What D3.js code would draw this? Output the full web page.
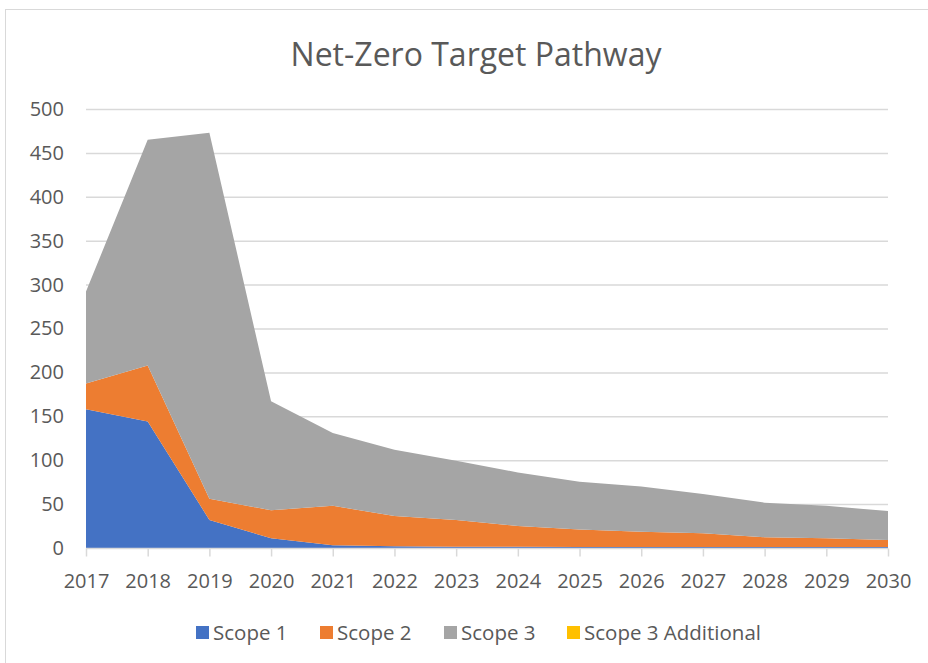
<!DOCTYPE html>
<html>
<head>
<meta charset="utf-8">
<script src="https://cdn.jsdelivr.net/npm/d3@7"></script>
<style>
  body { margin: 0; background: #fff; }
  text { font-family: "Open Sans", sans-serif; fill: #595959; }
</style>
</head>
<body>
<svg id="chart"></svg>
<script>
// values
const years = ["2017", "2018", "2019", "2020", "2021", "2022", "2023", "2024", "2025", "2026", "2027", "2028", "2029", "2030"];
const scope1 = [158, 144, 32, 11, 3, 2, 1.5, 1.5, 1, 1, 1, 1, 1, 1];
const scope2 = [29.5, 64, 24, 32, 45, 34.5, 30.5, 23.5, 20, 17.6, 15.7, 11.2, 10, 8];
const scope3 = [104.5, 257, 417, 124, 83, 75.5, 67.5, 61, 54.5, 51.4, 44.8, 39.4, 37, 33];
const scope3Additional = [0, 0, 0, 0, 0, 0, 0, 0, 0, 0, 0, 0, 0, 0];
const seriesNames = ["Scope 1", "Scope 2", "Scope 3", "Scope 3 Additional"];
const seriesColors = ["#4472c4", "#ed7d31", "#a5a5a5", "#ffc000"];
const yTicks = [0, 50, 100, 150, 200, 250, 300, 350, 400, 450, 500];

const width = 928, height = 663;
const margin = { top: 109, right: 40, bottom: 115, left: 86 };

const svg = d3.select("#chart").attr("width", width).attr("height", height);

// chart frame
svg.append("rect")
  .attr("x", 5.5).attr("y", 9.5)
  .attr("width", width + 10).attr("height", height + 10)
  .attr("fill", "none").attr("stroke", "#d9d9d9");

const table = years.map((y, i) => ({
  year: y,
  "Scope 1": scope1[i],
  "Scope 2": scope2[i],
  "Scope 3": scope3[i],
  "Scope 3 Additional": scope3Additional[i]
}));

const x = d3.scalePoint().domain(years).range([margin.left, width - margin.right]);
const y = d3.scaleLinear().domain([0, 500]).range([height - margin.bottom, margin.top]);

// gridlines
svg.append("g")
  .selectAll("line")
  .data(yTicks.filter(d => d > 0))
  .join("line")
  .attr("x1", margin.left).attr("x2", width - margin.right)
  .attr("y1", d => y(d) + 0.5).attr("y2", d => y(d) + 0.5)
  .attr("stroke", "#d9d9d9").attr("stroke-width", 1.5);

const stack = d3.stack().keys(seriesNames);
const layers = stack(table);

const area = d3.area()
  .x(d => x(d.data.year))
  .y0(d => y(d[0]))
  .y1(d => y(d[1]));

svg.append("g")
  .selectAll("path")
  .data(layers)
  .join("path")
  .attr("fill", (d, i) => seriesColors[i])
  .attr("d", area);

// y axis labels
const yAxis = svg.append("g")
  .attr("transform", `translate(${margin.left - 22},0)`)
  .call(d3.axisLeft(y).tickValues(yTicks).tickSize(0).tickPadding(0));
yAxis.select(".domain").remove();
yAxis.selectAll("text")
  .style("font-size", "20px")
  .style("font-family", "'Open Sans', sans-serif")
  .attr("fill", "#595959");

// x axis
const xAxis = svg.append("g")
  .attr("transform", `translate(0,${y(0) + 0.5})`)
  .call(d3.axisBottom(x).tickSize(8).tickPadding(17));
xAxis.select(".domain").attr("stroke", "#d9d9d9").attr("stroke-width", 1.5)
  .attr("d", `M${margin.left},0H${width - margin.right}`);
xAxis.selectAll(".tick line").attr("stroke", "#d9d9d9").attr("stroke-width", 1.5);
xAxis.selectAll("text")
  .style("font-size", "20px")
  .style("font-family", "'Open Sans', sans-serif")
  .attr("fill", "#595959");

// title
svg.append("text")
  .attr("x", 476).attr("y", 66)
  .attr("text-anchor", "middle")
  .style("font-size", "32px")
  .text("Net-Zero Target Pathway");

// legend
const legendX = [196, 320, 444, 567];
const legend = svg.append("g")
  .selectAll("g")
  .data(seriesNames)
  .join("g")
  .attr("transform", (d, i) => `translate(${legendX[i]},633)`);
legend.append("rect")
  .attr("x", 0).attr("y", -7)
  .attr("width", 13).attr("height", 13)
  .attr("fill", (d, i) => seriesColors[i]);
legend.append("text")
  .attr("x", 17).attr("y", 0)
  .attr("dy", "0.35em")
  .style("font-size", "20.5px")
  .text(d => d);
</script>
</body>
</html>
